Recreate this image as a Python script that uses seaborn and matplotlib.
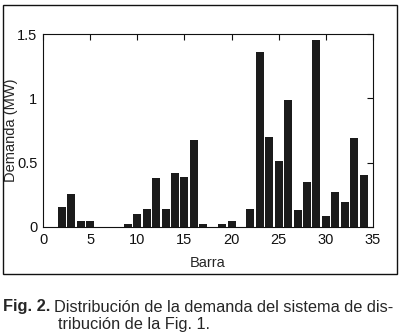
import matplotlib
matplotlib.use("Agg")
import matplotlib.pyplot as plt
import seaborn as sns
import numpy as np
from matplotlib.patches import Rectangle

# bus number and demand
barra = list(range(1, 35))
demanda = [0.0, 0.156, 0.26, 0.047, 0.047, 0.0, 0.0, 0.0, 0.026, 0.104,
           0.143, 0.382, 0.143, 0.42, 0.39, 0.68, 0.026, 0.0, 0.026, 0.047,
           0.003, 0.14, 1.357, 0.70, 0.515, 0.99, 0.133, 0.35, 1.453, 0.086,
           0.273, 0.195, 0.689, 0.408]

x_ticks = [0, 5, 10, 15, 20, 25, 30, 35]
y_ticks = [0, 0.5, 1, 1.5]
y_tick_labels = ["0", "0.5", "1", "1.5"]

sns.set_style("white")
plt.rcParams["font.family"] = ["Liberation Sans Narrow", "Liberation Sans", "DejaVu Sans"]

fig = plt.figure(figsize=(4.03, 3.35), dpi=100)
ax = fig.add_axes([43 / 403, 1 - 227 / 335, 330 / 403, 193 / 335])

sns.barplot(x=barra, y=demanda, native_scale=True, width=0.86,
            color="#1b1b1b", saturation=1, edgecolor="none", ax=ax)

ax.set_xlim(0, 35)
ax.set_ylim(0, 1.5)
ax.set_xticks(x_ticks)
ax.set_xticklabels([str(t) for t in x_ticks])
ax.set_yticks(y_ticks)
ax.set_yticklabels(y_tick_labels)
ax.tick_params(direction="in", length=4, width=0.8, top=True, right=True,
               labelsize=10.5, pad=4, colors="#111111")
for s in ax.spines.values():
    s.set_visible(True)
    s.set_color("#111111")
    s.set_linewidth(0.8)

ax.set_xlabel("Barra", fontsize=10.5)
ax.set_ylabel("Demanda (MW)", fontsize=10.5)
ax.xaxis.set_label_coords(0.5, -(263 - 227) / 193)
ax.yaxis.set_label_coords(-(43 - 11) / 330, 0.5)
ax.xaxis.label.set_va("center")
ax.yaxis.label.set_va("center")

# outer frame around the chart
fig.patches.append(Rectangle((3 / 403, 1 - 274 / 335), 394 / 403, 269 / 335,
                             transform=fig.transFigure, fill=False,
                             edgecolor="#111111", linewidth=1.0))

cap_font = ["Liberation Sans", "DejaVu Sans"]
fig.text(3 / 403, 1 - 307 / 335, "Fig. 2.", fontsize=11.8,
         fontweight="bold", family=cap_font, va="center", ha="left")
fig.text(54 / 403, 1 - 307 / 335, "Distribución de la demanda del sistema de dis-",
         fontsize=11.8, family=cap_font, va="center", ha="left")
fig.text(58 / 403, 1 - 325 / 335, "tribución de la Fig. 1.",
         fontsize=11.8, family=cap_font, va="center", ha="left")

fig.savefig("out.png", dpi=100)
